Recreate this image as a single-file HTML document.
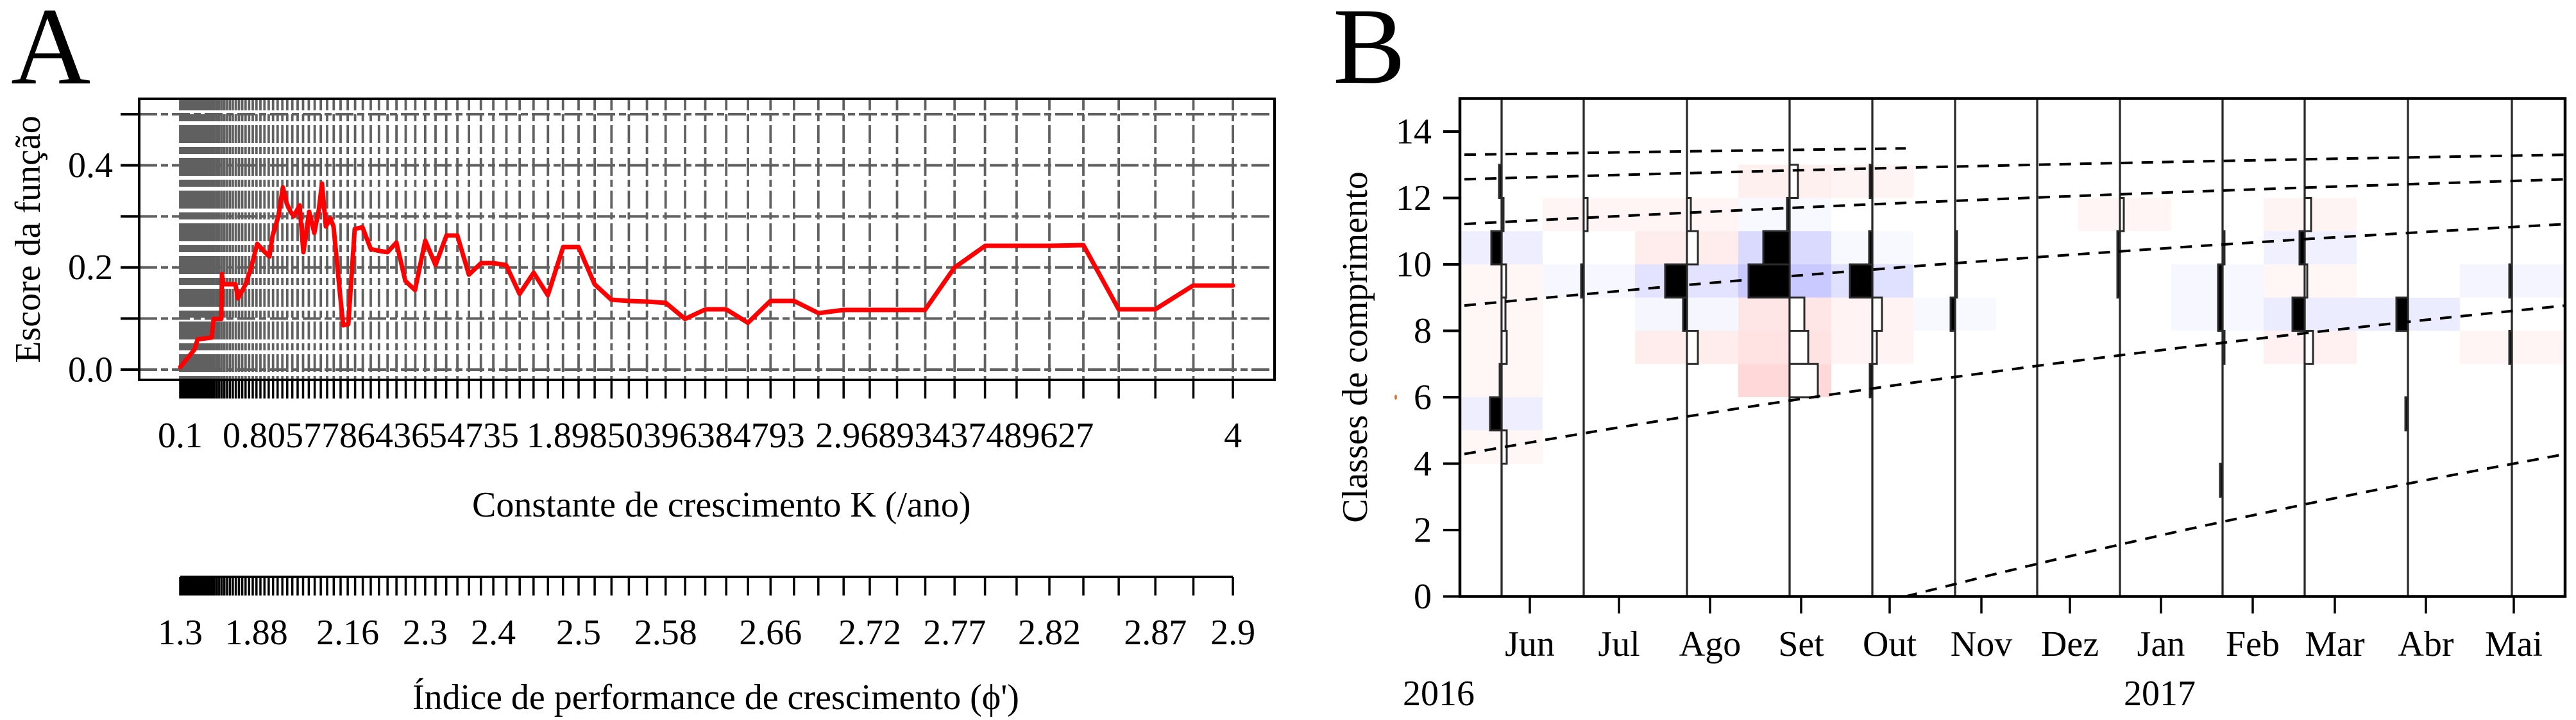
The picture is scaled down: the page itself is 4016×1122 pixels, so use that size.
<!DOCTYPE html>
<html><head><meta charset="utf-8"><style>
html,body{margin:0;padding:0;background:#fff;}
svg{display:block;font-family:"Liberation Serif","Times New Roman",serif;}
text{font-family:"Liberation Serif","Times New Roman",serif;}
</style></head><body>
<svg width="4016" height="1122" viewBox="0 0 4016 1122" xmlns="http://www.w3.org/2000/svg" font-family="Liberation Serif, serif">
<defs>
<clipPath id="cb"><rect x="2278" y="155" width="1719" height="773"/></clipPath>
<path id="tk" d="M281.0 0v29M282.6 0v29M284.3 0v29M286.0 0v29M287.8 0v29M289.6 0v29M291.5 0v29M293.6 0v29M295.6 0v29M297.8 0v29M300.0 0v29M302.3 0v29M304.7 0v29M307.2 0v29M309.8 0v29M312.5 0v29M315.3 0v29M318.2 0v29M321.2 0v29M324.3 0v29M327.6 0v29M330.9 0v29M334.4 0v29M338.1 0v29M341.8 0v29M345.7 0v29M349.8 0v29M354.0 0v29M358.4 0v29M362.9 0v29M367.6 0v29M372.5 0v29M377.6 0v29M382.8 0v29M388.3 0v29M394.0 0v29M399.8 0v29M406.0 0v29M412.3 0v29M418.9 0v29M425.7 0v29M432.8 0v29M440.2 0v29M447.8 0v29M455.7 0v29M464.0 0v29M472.5 0v29M481.4 0v29M490.6 0v29M500.1 0v29M510.0 0v29M520.3 0v29M531.0 0v29M542.1 0v29M553.6 0v29M565.6 0v29M578.0 0v29M590.8 0v29M604.2 0v29M618.1 0v29M632.5 0v29M647.4 0v29M662.9 0v29M679.0 0v29M695.7 0v29M713.1 0v29M731.1 0v29M749.7 0v29M769.1 0v29M789.5 0v29M810.2 0v29M831.8 0v29M854.3 0v29M877.7 0v29M902.0 0v29M927.1 0v29M953.3 0v29M980.4 0v29M1008.6 0v29M1037.7 0v29M1068.1 0v29M1099.5 0v29M1132.2 0v29M1166.1 0v29M1201.3 0v29M1237.9 0v29M1275.8 0v29M1315.2 0v29M1356.0 0v29M1398.5 0v29M1442.5 0v29M1488.2 0v29M1535.6 0v29M1584.9 0v29M1636.0 0v29M1689.0 0v29M1744.1 0v29M1801.2 0v29M1860.5 0v29M1922.1 0v29" stroke="#000" stroke-width="3.5" fill="none"/>
</defs>
<rect x="0" y="0" width="4016" height="1122" fill="#fff"/>

<!-- ================= PANEL A ================= -->
<text x="17" y="130" font-size="172">A</text>

<!-- horizontal grid -->
<g stroke="#606060" stroke-width="4" stroke-dasharray="28 6 11 6" fill="none">
<line x1="217" x2="1987" y1="178" y2="178"/>
<line x1="217" x2="1987" y1="257.6" y2="257.6"/>
<line x1="217" x2="1987" y1="337.2" y2="337.2"/>
<line x1="217" x2="1987" y1="416.8" y2="416.8"/>
<line x1="217" x2="1987" y1="496.4" y2="496.4"/>
<line x1="217" x2="1987" y1="576" y2="576"/>
</g>
<!-- vertical grid -->
<g stroke="#606060" stroke-width="3.8" stroke-dasharray="28 6 11 6" stroke-dashoffset="10" fill="none">
<line x1="281.0" x2="281.0" y1="154" y2="592"/><line x1="282.6" x2="282.6" y1="154" y2="592"/><line x1="284.3" x2="284.3" y1="154" y2="592"/><line x1="286.0" x2="286.0" y1="154" y2="592"/><line x1="287.8" x2="287.8" y1="154" y2="592"/><line x1="289.6" x2="289.6" y1="154" y2="592"/><line x1="291.5" x2="291.5" y1="154" y2="592"/><line x1="293.6" x2="293.6" y1="154" y2="592"/><line x1="295.6" x2="295.6" y1="154" y2="592"/><line x1="297.8" x2="297.8" y1="154" y2="592"/>
<line x1="300.0" x2="300.0" y1="154" y2="592"/><line x1="302.3" x2="302.3" y1="154" y2="592"/><line x1="304.7" x2="304.7" y1="154" y2="592"/><line x1="307.2" x2="307.2" y1="154" y2="592"/><line x1="309.8" x2="309.8" y1="154" y2="592"/><line x1="312.5" x2="312.5" y1="154" y2="592"/><line x1="315.3" x2="315.3" y1="154" y2="592"/><line x1="318.2" x2="318.2" y1="154" y2="592"/><line x1="321.2" x2="321.2" y1="154" y2="592"/><line x1="324.3" x2="324.3" y1="154" y2="592"/>
<line x1="327.6" x2="327.6" y1="154" y2="592"/><line x1="330.9" x2="330.9" y1="154" y2="592"/><line x1="334.4" x2="334.4" y1="154" y2="592"/><line x1="338.1" x2="338.1" y1="154" y2="592"/><line x1="341.8" x2="341.8" y1="154" y2="592"/><line x1="345.7" x2="345.7" y1="154" y2="592"/><line x1="349.8" x2="349.8" y1="154" y2="592"/><line x1="354.0" x2="354.0" y1="154" y2="592"/><line x1="358.4" x2="358.4" y1="154" y2="592"/><line x1="362.9" x2="362.9" y1="154" y2="592"/>
<line x1="367.6" x2="367.6" y1="154" y2="592"/><line x1="372.5" x2="372.5" y1="154" y2="592"/><line x1="377.6" x2="377.6" y1="154" y2="592"/><line x1="382.8" x2="382.8" y1="154" y2="592"/><line x1="388.3" x2="388.3" y1="154" y2="592"/><line x1="394.0" x2="394.0" y1="154" y2="592"/><line x1="399.8" x2="399.8" y1="154" y2="592"/><line x1="406.0" x2="406.0" y1="154" y2="592"/><line x1="412.3" x2="412.3" y1="154" y2="592"/><line x1="418.9" x2="418.9" y1="154" y2="592"/>
<line x1="425.7" x2="425.7" y1="154" y2="592"/><line x1="432.8" x2="432.8" y1="154" y2="592"/><line x1="440.2" x2="440.2" y1="154" y2="592"/><line x1="447.8" x2="447.8" y1="154" y2="592"/><line x1="455.7" x2="455.7" y1="154" y2="592"/><line x1="464.0" x2="464.0" y1="154" y2="592"/><line x1="472.5" x2="472.5" y1="154" y2="592"/><line x1="481.4" x2="481.4" y1="154" y2="592"/><line x1="490.6" x2="490.6" y1="154" y2="592"/><line x1="500.1" x2="500.1" y1="154" y2="592"/>
<line x1="510.0" x2="510.0" y1="154" y2="592"/><line x1="520.3" x2="520.3" y1="154" y2="592"/><line x1="531.0" x2="531.0" y1="154" y2="592"/><line x1="542.1" x2="542.1" y1="154" y2="592"/><line x1="553.6" x2="553.6" y1="154" y2="592"/><line x1="565.6" x2="565.6" y1="154" y2="592"/><line x1="578.0" x2="578.0" y1="154" y2="592"/><line x1="590.8" x2="590.8" y1="154" y2="592"/><line x1="604.2" x2="604.2" y1="154" y2="592"/><line x1="618.1" x2="618.1" y1="154" y2="592"/>
<line x1="632.5" x2="632.5" y1="154" y2="592"/><line x1="647.4" x2="647.4" y1="154" y2="592"/><line x1="662.9" x2="662.9" y1="154" y2="592"/><line x1="679.0" x2="679.0" y1="154" y2="592"/><line x1="695.7" x2="695.7" y1="154" y2="592"/><line x1="713.1" x2="713.1" y1="154" y2="592"/><line x1="731.1" x2="731.1" y1="154" y2="592"/><line x1="749.7" x2="749.7" y1="154" y2="592"/><line x1="769.1" x2="769.1" y1="154" y2="592"/><line x1="789.5" x2="789.5" y1="154" y2="592"/>
<line x1="810.2" x2="810.2" y1="154" y2="592"/><line x1="831.8" x2="831.8" y1="154" y2="592"/><line x1="854.3" x2="854.3" y1="154" y2="592"/><line x1="877.7" x2="877.7" y1="154" y2="592"/><line x1="902.0" x2="902.0" y1="154" y2="592"/><line x1="927.1" x2="927.1" y1="154" y2="592"/><line x1="953.3" x2="953.3" y1="154" y2="592"/><line x1="980.4" x2="980.4" y1="154" y2="592"/><line x1="1008.6" x2="1008.6" y1="154" y2="592"/><line x1="1037.7" x2="1037.7" y1="154" y2="592"/>
<line x1="1068.1" x2="1068.1" y1="154" y2="592"/><line x1="1099.5" x2="1099.5" y1="154" y2="592"/><line x1="1132.2" x2="1132.2" y1="154" y2="592"/><line x1="1166.1" x2="1166.1" y1="154" y2="592"/><line x1="1201.3" x2="1201.3" y1="154" y2="592"/><line x1="1237.9" x2="1237.9" y1="154" y2="592"/><line x1="1275.8" x2="1275.8" y1="154" y2="592"/><line x1="1315.2" x2="1315.2" y1="154" y2="592"/><line x1="1356.0" x2="1356.0" y1="154" y2="592"/><line x1="1398.5" x2="1398.5" y1="154" y2="592"/>
<line x1="1442.5" x2="1442.5" y1="154" y2="592"/><line x1="1488.2" x2="1488.2" y1="154" y2="592"/><line x1="1535.6" x2="1535.6" y1="154" y2="592"/><line x1="1584.9" x2="1584.9" y1="154" y2="592"/><line x1="1636.0" x2="1636.0" y1="154" y2="592"/><line x1="1689.0" x2="1689.0" y1="154" y2="592"/><line x1="1744.1" x2="1744.1" y1="154" y2="592"/><line x1="1801.2" x2="1801.2" y1="154" y2="592"/><line x1="1860.5" x2="1860.5" y1="154" y2="592"/><line x1="1922.1" x2="1922.1" y1="154" y2="592"/>
</g>

<!-- red score curve -->
<polyline fill="none" stroke="#ff0000" stroke-width="7" stroke-linejoin="round" stroke-linecap="round" points="281,572 303,545 308,529 330,526 333,497 345,497 346,427 348,443 367,443 371,465 383,443 392,415 401,380 413,393 420,400 425,367 434,337 441,292 447,317 453,330 458,337 467,320 473,393 482,330 490,363 497,327 502,286 508,353 515,340 520,353 530,457 535,507 543,505 553,357 565,354 578,388 591,391 604,393 618,378 632,438 647,452 663,375 679,413 696,367 713,367 731,428 750,410 769,410 789,413 810,458 832,425 854,460 878,385 902,385 927,443 953,467 980,469 1009,470 1038,472 1068,497 1100,482 1132,482 1166,503 1201,469 1238,469 1276,488 1315,483 1356,483 1398,483 1442,483 1488,417 1536,383 1585,383 1636,383 1689,382 1744,482 1801,482 1860,445 1922,445"/>

<!-- frame A -->
<rect x="217" y="154" width="1770" height="438" fill="none" stroke="#000" stroke-width="4"/>
<!-- y ticks A -->
<path d="M188 178H217M188 257.6H217M188 337.2H217M188 416.8H217M188 496.4H217M188 576H217" stroke="#000" stroke-width="4"/>
<g font-size="56" text-anchor="end">
<text x="176" y="276">0.4</text>
<text x="176" y="435">0.2</text>
<text x="176" y="594.5">0.0</text>
</g>
<text transform="translate(62,373) rotate(-90)" font-size="56" text-anchor="middle">Escore da função</text>

<!-- x ticks A -->
<use href="#tk" x="0" y="592"/>
<g font-size="56" text-anchor="middle">
<text x="281" y="697">0.1</text>
<text x="578" y="697">0.805778643654735</text>
<text x="1037.7" y="697">1.89850396384793</text>
<text x="1488.2" y="697">2.96893437489627</text>
<text x="1922.1" y="697">4</text>
</g>
<text x="736" y="805" font-size="56">Constante de crescimento K (/ano)</text>

<!-- second axis -->
<line x1="281" x2="1922.1" y1="899" y2="899" stroke="#000" stroke-width="4"/>
<use href="#tk" x="0" y="899"/>
<g font-size="56" text-anchor="middle">
<text x="281" y="1004">1.3</text>
<text x="399.8" y="1004">1.88</text>
<text x="542.1" y="1004">2.16</text>
<text x="662.9" y="1004">2.3</text>
<text x="769.1" y="1004">2.4</text>
<text x="902.0" y="1004">2.5</text>
<text x="1037.7" y="1004">2.58</text>
<text x="1201.3" y="1004">2.66</text>
<text x="1356.0" y="1004">2.72</text>
<text x="1488.2" y="1004">2.77</text>
<text x="1636.0" y="1004">2.82</text>
<text x="1801.2" y="1004">2.87</text>
<text x="1922.1" y="1004">2.9</text>
</g>
<text x="643" y="1105" font-size="56">Índice de performance de crescimento (ϕ')</text>

<!-- ================= PANEL B ================= -->
<text x="2078" y="129" font-size="170">B</text>

<!-- background cells -->
<g stroke="none">
<rect x="2277" y="360.25" width="128" height="51.75" fill="#eeeeff"/>
<rect x="2277" y="412" width="128" height="207" fill="#fff6f6"/>
<rect x="2277" y="619" width="128" height="51.75" fill="#eeeeff"/>
<rect x="2277" y="670.75" width="128" height="51.75" fill="#fff6f6"/>
<rect x="2405" y="308.5" width="144" height="51.75" fill="#fff5f5"/>
<rect x="2405" y="412" width="144" height="51.75" fill="#f7f7ff"/>
<rect x="2549" y="308.5" width="161" height="51.75" fill="#fff5f5"/>
<rect x="2549" y="360.25" width="161" height="51.75" fill="#ffeded"/>
<rect x="2549" y="412" width="161" height="51.75" fill="#e3e3ff"/>
<rect x="2549" y="463.75" width="161" height="51.75" fill="#f6f6ff"/>
<rect x="2549" y="515.5" width="161" height="51.75" fill="#ffeded"/>
<rect x="2710" y="256.75" width="145" height="51.75" fill="#fff0f0"/>
<rect x="2710" y="308.5" width="145" height="51.75" fill="#f8f8ff"/>
<rect x="2710" y="360.25" width="145" height="51.75" fill="#dadaff"/>
<rect x="2710" y="412" width="145" height="51.75" fill="#c9c9ff"/>
<rect x="2710" y="463.75" width="145" height="51.75" fill="#ffe6e6"/>
<rect x="2710" y="515.5" width="145" height="51.75" fill="#ffe2e2"/>
<rect x="2710" y="567.25" width="145" height="51.75" fill="#ffd9d9"/>
<rect x="2855" y="256.75" width="128" height="51.75" fill="#fff4f4"/>
<rect x="2855" y="360.25" width="128" height="51.75" fill="#f8f8ff"/>
<rect x="2855" y="412" width="128" height="51.75" fill="#e0e0ff"/>
<rect x="2855" y="463.75" width="128" height="103.5" fill="#fff3f3"/>
<rect x="2983" y="463.75" width="129" height="51.75" fill="#f8f8ff"/>
<rect x="3240" y="308.5" width="145" height="51.75" fill="#fff5f5"/>
<rect x="3385" y="412" width="144" height="103.5" fill="#f7f7ff"/>
<rect x="3529" y="308.5" width="145" height="51.75" fill="#fff4f4"/>
<rect x="3529" y="360.25" width="145" height="51.75" fill="#f0f0ff"/>
<rect x="3529" y="412" width="145" height="51.75" fill="#fff6f6"/>
<rect x="3529" y="463.75" width="145" height="51.75" fill="#ececff"/>
<rect x="3529" y="515.5" width="145" height="51.75" fill="#fff1f1"/>
<rect x="3674" y="463.75" width="161" height="51.75" fill="#ececff"/>
<rect x="3835" y="412" width="163" height="51.75" fill="#f5f5ff"/>
<rect x="3835" y="515.5" width="163" height="51.75" fill="#fff5f5"/>
</g>

<!-- sample lines -->
<path d="M2341 155V928M2469 155V928M2630 155V928M2790 155V928M2919 155V928M3048 155V928M3176 155V928M3305 155V928M3465 155V928M3593 155V928M3754 155V928M3916 155V928" stroke="#2a2a2a" stroke-width="3.3" fill="none"/>

<!-- histogram bars -->
<g stroke="#2a2a2a" stroke-width="3">
<rect x="2337" y="256.75" width="4" height="51.75" fill="#000"/>
<rect x="2341" y="308.5" width="3" height="51.75" fill="#fff"/>
<rect x="2325" y="360.25" width="16" height="51.75" fill="#000"/>
<rect x="2341" y="412" width="7" height="51.75" fill="#fff"/>
<rect x="2341" y="463.75" width="6" height="51.75" fill="#fff"/>
<rect x="2341" y="515.5" width="8" height="51.75" fill="#fff"/>
<rect x="2338" y="567.25" width="3" height="51.75" fill="#000"/>
<rect x="2323" y="619" width="18" height="51.75" fill="#000"/>
<rect x="2341" y="670.75" width="8" height="51.75" fill="#fff"/>
<rect x="2469" y="308.5" width="6" height="51.75" fill="#fff"/>
<rect x="2465" y="412" width="4" height="51.75" fill="#000"/>
<rect x="2630" y="308.5" width="6" height="51.75" fill="#fff"/>
<rect x="2630" y="360.25" width="17" height="51.75" fill="#fff"/>
<rect x="2596" y="412" width="34" height="51.75" fill="#000"/>
<rect x="2624" y="463.75" width="6" height="51.75" fill="#000"/>
<rect x="2630" y="515.5" width="17" height="51.75" fill="#fff"/>
<rect x="2790" y="256.75" width="13" height="51.75" fill="#fff"/>
<rect x="2786" y="308.5" width="4" height="51.75" fill="#000"/>
<rect x="2749" y="360.25" width="41" height="51.75" fill="#000"/>
<rect x="2726" y="412" width="64" height="51.75" fill="#000"/>
<rect x="2790" y="463.75" width="23" height="51.75" fill="#fff"/>
<rect x="2790" y="515.5" width="29" height="51.75" fill="#fff"/>
<rect x="2790" y="567.25" width="44" height="51.75" fill="#fff"/>
<rect x="2915" y="256.75" width="4" height="51.75" fill="#000"/>
<rect x="2914" y="360.25" width="5" height="51.75" fill="#000"/>
<rect x="2884" y="412" width="35" height="51.75" fill="#000"/>
<rect x="2919" y="463.75" width="15" height="51.75" fill="#fff"/>
<rect x="2919" y="515.5" width="7" height="51.75" fill="#fff"/>
<rect x="2915" y="567.25" width="4" height="51.75" fill="#000"/>
<rect x="3048" y="360.25" width="3" height="103.5" fill="#fff"/>
<rect x="3041" y="463.75" width="7" height="51.75" fill="#000"/>
<rect x="3305" y="308.5" width="6" height="51.75" fill="#fff"/>
<rect x="3301" y="360.25" width="4" height="103.5" fill="#000"/>
<rect x="3465" y="360.25" width="3" height="51.75" fill="#fff"/>
<rect x="3458" y="412" width="7" height="103.5" fill="#000"/>
<rect x="3465" y="515.5" width="3" height="51.75" fill="#fff"/>
<rect x="3461" y="722.5" width="4" height="51.75" fill="#000"/>
<rect x="3593" y="308.5" width="10" height="51.75" fill="#fff"/>
<rect x="3585" y="360.25" width="8" height="51.75" fill="#000"/>
<rect x="3593" y="412" width="4" height="51.75" fill="#fff"/>
<rect x="3574" y="463.75" width="19" height="51.75" fill="#000"/>
<rect x="3593" y="515.5" width="13" height="51.75" fill="#fff"/>
<rect x="3736" y="463.75" width="18" height="51.75" fill="#000"/>
<rect x="3750" y="619" width="4" height="51.75" fill="#000"/>
<rect x="3912" y="412" width="4" height="51.75" fill="#000"/>
<rect x="3912" y="515.5" width="4" height="51.75" fill="#000"/>
</g>

<!-- growth curves -->
<g clip-path="url(#cb)" fill="none" stroke="#000" stroke-width="4" stroke-dasharray="18 14">
<polyline points="2283,241.1 2400,239.3 2600,236.3 2800,233.5 2971,231.2"/>
<polyline points="2283,279.4 2400,276.0 2600,270.6 2800,265.4 2971,261.3 3000,260.6 3200,256.2 3400,252.0 3600,248.1 3800,244.5 3997,241.2"/>
<polyline points="2283,349.1 2400,343.0 2600,333.0 2800,323.6 2971,316.1 3000,314.9 3200,306.8 3400,299.2 3600,292.1 3800,285.6 3997,279.5"/>
<polyline points="2283,476.1 2400,464.9 2600,446.6 2800,429.6 2971,416.0 3000,413.7 3200,399.0 3400,385.2 3600,372.3 3800,360.3 3997,349.3"/>
<polyline points="2283,707.5 2400,687.0 2500,670.0 2600,653.8 2700,638.0 2800,622.8 2971,597.9 3000,593.9 3200,566.9 3400,541.8 3600,518.4 3800,496.5 3997,476.4"/>
<polyline points="2971,929.5 3000,922.1 3050,909.7 3100,897.1 3150,885.0 3200,873.0 3300,849.8 3400,827.2 3500,805.6 3600,784.5 3700,764.3 3800,744.7 3900,726.0 3997,708.1"/>
</g>

<!-- frame B -->
<rect x="2276" y="153.5" width="1723" height="776" fill="none" stroke="#000" stroke-width="4.5"/>

<!-- y ticks B -->
<path d="M2250 929.5H2276M2250 826H2276M2250 722.5H2276M2250 619H2276M2250 515.5H2276M2250 412H2276M2250 308.5H2276M2250 205H2276" stroke="#000" stroke-width="4"/>
<g font-size="56" text-anchor="end">
<text x="2232" y="948">0</text>
<text x="2232" y="844.5">2</text>
<text x="2232" y="741">4</text>
<text x="2232" y="637.5">6</text>
<text x="2232" y="534">8</text>
<text x="2232" y="430.5">10</text>
<text x="2232" y="327">12</text>
<text x="2232" y="223.5">14</text>
</g>
<ellipse cx="2176" cy="619" rx="2" ry="4" fill="#d9773a"/>
<text transform="translate(2131,541) rotate(-90)" font-size="56" text-anchor="middle">Classes de comprimento</text>

<!-- x ticks B -->
<path d="M2385 929.5V956M2524 929.5V956M2666 929.5V956M2808 929.5V956M2946 929.5V956M3089 929.5V956M3227 929.5V956M3369 929.5V956M3512 929.5V956M3640 929.5V956M3782 929.5V956M3919 929.5V956" stroke="#000" stroke-width="3.5"/>
<g font-size="56" text-anchor="middle">
<text x="2385" y="1022">Jun</text>
<text x="2524" y="1022">Jul</text>
<text x="2666" y="1022">Ago</text>
<text x="2808" y="1022">Set</text>
<text x="2946" y="1022">Out</text>
<text x="3089" y="1022">Nov</text>
<text x="3227" y="1022">Dez</text>
<text x="3369" y="1022">Jan</text>
<text x="3512" y="1022">Feb</text>
<text x="3640" y="1022">Mar</text>
<text x="3782" y="1022">Abr</text>
<text x="3919" y="1022">Mai</text>
<text x="2243" y="1099">2016</text>
<text x="3367" y="1099">2017</text>
</g>
</svg>
</body></html>
